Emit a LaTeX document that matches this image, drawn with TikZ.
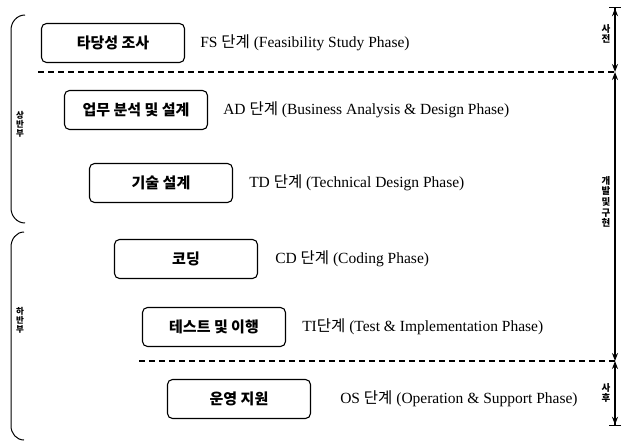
\documentclass[tikz,border=0pt]{standalone}
\usepackage{fontspec}
\setmainfont{Liberation Serif}
\newfontfamily\krfont{Noto Sans CJK KR}
\usetikzlibrary{positioning}
\usetikzlibrary{arrows.meta}

\tikzset{
	phasebox/.style = {draw, rectangle, rounded corners = 5pt, line width = 1.1pt, minimum width = 143pt, minimum height = 39pt, font = \krfont\bfseries\fontsize{15}{17}\selectfont},
	phasetext/.style = {inner sep = 0pt, font = \fontsize{15.5}{17}\selectfont},
	sidetext/.style = {inner sep = 0pt, align = center, font = \krfont\bfseries\fontsize{9.5}{10}\selectfont},
	halftext/.style = {inner sep = 0pt, align = center, font = \krfont\bfseries\fontsize{8.5}{9}\selectfont},
	spanarrow/.style = {line width = 1.2pt},
	cutline/.style = {line width = 1.2pt, dash pattern = on 6pt off 4pt}
}

\begin{document}
\begin{tikzpicture}[x = 1pt, y = -1pt]
		\useasboundingbox (0,0) rectangle (623,441);
		\node[phasebox] at (113,43) (fs) {타당성 조사};
		\node[phasebox] at (136,110) (ad) {업무 분석 및 설계};
		\node[phasebox] at (161,183) (td) {기술 설계};
		\node[phasebox] at (186,259) (cd) {코딩};
		\node[phasebox] at (214,327) (ti) {테스트 및 이행};
		\node[phasebox] at (239,399) (os) {운영 지원};
		\node[right = 15pt of fs, phasetext] (fstext) {FS {\krfont 단계} (Feasibility Study Phase)};
		\node[right = 15pt of ad, phasetext] (adtext) {AD {\krfont 단계} (Business Analysis \& Design Phase)};
		\node[right = 16pt of td, phasetext] (tdtext) {TD {\krfont 단계} (Technical Design Phase)};
		\node[right = 17pt of cd, phasetext] (cdtext) {CD {\krfont 단계} (Coding Phase)};
		\node[right = 16pt of ti, phasetext] (titext) {TI{\krfont 단계} (Test \& Implementation Phase)};
		\node[right = 29pt of os, phasetext] (ostext) {OS {\krfont 단계} (Operation \& Support Phase)};
		\coordinate (r0) at (615,7);
		\coordinate (r1) at (615,72);
		\coordinate (r2) at (615,361);
		\coordinate (r3) at (615,426);
		\coordinate (cut1) at (38,72);
		\coordinate (cut2) at (139,361);
		\draw[cutline] (cut1) -- (r1);
		\draw[cutline] (cut2) -- (r2);
		\draw[spanarrow, {Bar[width = 12pt]Stealth[length = 8pt, width = 6pt]}-{Stealth[length = 8pt, width = 6pt]}] (r0) -- (r1);
		\draw[spanarrow, {Stealth[length = 8pt, width = 6pt]}-{Stealth[length = 8pt, width = 6pt]}] (r1) -- (r2);
		\draw[spanarrow, {Stealth[length = 8pt, width = 6pt]}-{Stealth[length = 8pt, width = 6pt]Bar[width = 12pt]}] (r2) -- (r3);
		\node[sidetext] at (606,34) (pre) {사\\전};
		\node[sidetext] at (606,202) (dev) {개\\발\\[1pt]및\\[1pt]구\\현};
		\node[sidetext] at (606,393) (post) {사\\후};
		\draw[line width = 1pt] (25,15) to[out = 180, in = 90] (11,30) -- (11,208) to[out = -90, in = 180] (25,223);
		\draw[line width = 1pt] (24,232) to[out = 180, in = 90] (11,247) -- (11,426) to[out = -90, in = 180] (24,440);
		\node[halftext] at (20,124) (upper) {상\\반\\부};
		\node[halftext] at (20,320) (lower) {하\\반\\부};
	\end{tikzpicture}
\end{document}
